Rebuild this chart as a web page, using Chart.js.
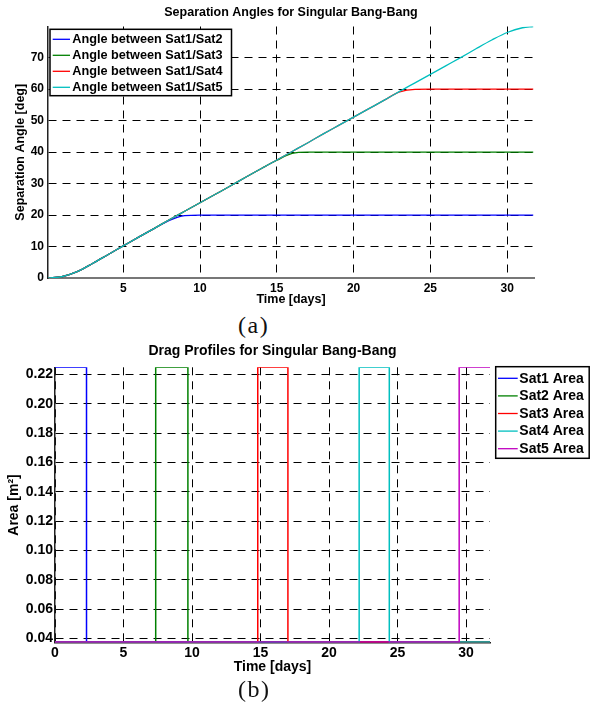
<!DOCTYPE html>
<html>
<head>
<meta charset="utf-8">
<script src="https://cdn.jsdelivr.net/npm/chart.js@4"></script>
<style>
    body { margin: 0; background: #fff; width: 591px; height: 710px; position: relative; overflow: hidden; }
    .box { position: absolute; left: 0; width: 591px; }
    .cap { position: absolute; font-family: "Liberation Serif", "Times New Roman", serif; font-size: 24px; letter-spacing: 1.5px; color: #111; }
</style>
</head>
<body>
<div class="box" style="top:0;height:310px;"><canvas id="angleChart"></canvas></div>
<div class="cap" style="left:238px;top:312px;">(a)</div>
<div class="box" style="top:340px;height:345px;"><canvas id="dragChart"></canvas></div>
<div class="cap" style="left:238px;top:676px;">(b)</div>
<script>
// separation angles (deg) vs time (days)
const days = [0.1, 1, 2, 3, 4, 5, 6, 7, 8, 9, 10, 11, 12, 13, 14, 15, 16, 17, 18, 19, 20, 21, 22, 23, 24, 25, 26, 27, 28, 29, 30, 31, 31.7];
const angleSat2 = [0, 0.4, 2.0, 4.6, 7.4, 10.2, 13.0, 15.7, 18.3, 19.8, 20, 20, 20, 20, 20, 20, 20, 20, 20, 20, 20, 20, 20, 20, 20, 20, 20, 20, 20, 20, 20, 20, 20];
const angleSat3 = [0, 0.4, 2.0, 4.6, 7.4, 10.2, 13.0, 15.7, 18.5, 21.2, 23.9, 26.6, 29.3, 32.1, 34.8, 37.4, 39.6, 40, 40, 40, 40, 40, 40, 40, 40, 40, 40, 40, 40, 40, 40, 40, 40];
const angleSat4 = [0, 0.4, 2.0, 4.6, 7.4, 10.2, 13.0, 15.7, 18.5, 21.2, 23.9, 26.6, 29.3, 32.1, 34.8, 37.5, 40.2, 42.9, 45.7, 48.4, 51.1, 53.8, 56.5, 59.1, 59.95, 60, 60, 60, 60, 60, 60, 60, 60];
const angleSat5 = [0, 0.4, 2.0, 4.6, 7.4, 10.2, 13.0, 15.7, 18.5, 21.2, 23.9, 26.6, 29.3, 32.1, 34.8, 37.5, 40.2, 42.9, 45.7, 48.4, 51.1, 53.8, 56.5, 59.3, 62.0, 64.7, 67.4, 70.1, 72.9, 75.6, 78.0, 79.5, 79.9];
const angleXTicks = [5, 10, 15, 20, 25, 30];
const angleYTicks = [0, 10, 20, 30, 40, 50, 60, 70];

// drag area (m^2) switching profiles
const dragTime1 = [0, 2.3, 2.3, 31.75];
const dragArea1 = [0.225, 0.225, 0.0375, 0.0375];
const dragTime2 = [0, 7.35, 7.35, 9.7, 9.7, 31.75];
const dragArea2 = [0.0375, 0.0375, 0.225, 0.225, 0.0375, 0.0375];
const dragTime3 = [0, 14.8, 14.8, 17.0, 17.0, 31.75];
const dragArea3 = [0.0375, 0.0375, 0.225, 0.225, 0.0375, 0.0375];
const dragTime4 = [0, 22.2, 22.2, 24.4, 24.4, 31.75];
const dragArea4 = [0.0375, 0.0375, 0.225, 0.225, 0.0375, 0.0375];
const dragTime5 = [0, 29.5, 29.5, 31.75];
const dragArea5 = [0.0375, 0.0375, 0.225, 0.225];
const dragXTicks = [0, 5, 10, 15, 20, 25, 30];
const dragYTicks = [0.04, 0.06, 0.08, 0.1, 0.12, 0.14, 0.16, 0.18, 0.2, 0.22];

const colors = ['#0000ff', '#008000', '#ff0000', '#00bfbf', '#bf00bf'];

Chart.defaults.font.family = '"Liberation Sans", Arial, sans-serif';
Chart.defaults.font.weight = 'bold';
Chart.defaults.color = '#000';

function pts(xs, ys) {
    return xs.map((x, i) => ({ x: x, y: ys[i] }));
}

// legend drawn as a framed box, like the matlab one
const boxLegend = {
    id: 'boxLegend',
    afterDraw(chart, args, opts) {
        const ctx = chart.ctx;
        ctx.save();
        ctx.fillStyle = '#fff';
        ctx.fillRect(opts.x, opts.y, opts.w, opts.h);
        ctx.strokeStyle = '#000';
        ctx.lineWidth = 1.5;
        ctx.strokeRect(opts.x, opts.y, opts.w, opts.h);
        ctx.font = 'bold ' + opts.size + 'px "Liberation Sans", Arial, sans-serif';
        ctx.textBaseline = 'middle';
        chart.data.datasets.forEach((ds, i) => {
            const y = opts.y + opts.rowTop + i * opts.rowGap;
            ctx.strokeStyle = ds.borderColor;
            ctx.lineWidth = 1.3;
            ctx.beginPath();
            ctx.moveTo(opts.x + opts.line0, y);
            ctx.lineTo(opts.x + opts.line1, y);
            ctx.stroke();
            ctx.fillStyle = '#000';
            ctx.fillText(ds.label, opts.x + opts.textX, y + 0.5);
        });
        ctx.restore();
    }
};

function setTicks(values) {
    return function(scale) {
        scale.ticks = values.map(v => ({ value: v }));
    };
}

const angleSeries = [angleSat2, angleSat3, angleSat4, angleSat5];
const angleLabels = ['Angle between Sat1/Sat2', 'Angle between Sat1/Sat3', 'Angle between Sat1/Sat4', 'Angle between Sat1/Sat5'];

new Chart(document.getElementById('angleChart'), {
    type: 'line',
    data: {
        datasets: angleSeries.map((s, i) => ({
            label: angleLabels[i],
            data: pts(days, s),
            borderColor: colors[i],
            borderWidth: 1.3,
            pointRadius: 0,
            cubicInterpolationMode: 'monotone',
            order: 3 - i
        }))
    },
    options: {
        responsive: true,
        maintainAspectRatio: false,
        animation: false,
        layout: { padding: { left: 0, right: 57, top: 0, bottom: 0 } },
        plugins: {
            legend: { display: false },
            tooltip: { enabled: false },
            title: {
                display: true,
                fullSize: false,
                text: 'Separation Angles for Singular Bang-Bang',
                font: { size: 12.5, weight: 'bold' },
                padding: { top: 5, bottom: 6.5 }
            },
            boxLegend: { x: 50, y: 29.3, w: 181.5, h: 66.4, rowTop: 10, rowGap: 16, line0: 2.7, line1: 20, textX: 22.3, size: 12.7 }
        },
        scales: {
            x: {
                type: 'linear',
                min: 0.1,
                max: 31.75,
                afterBuildTicks: setTicks(angleXTicks),
                afterFit(scale) { scale.height = 32; },
                grid: { color: '#000', lineWidth: 1, drawTicks: false },
                border: { color: '#777', width: 2, dash: [8, 6] },
                ticks: { font: { size: 12, weight: 'bold' }, padding: 3, maxRotation: 0 },
                title: { display: true, text: 'Time [days]', font: { size: 12.5, weight: 'bold' }, padding: { top: 0, bottom: 2.5 } }
            },
            y: {
                min: 0,
                max: 79.9,
                afterBuildTicks: setTicks(angleYTicks),
                afterFit(scale) { scale.width = 48; },
                grid: { color: '#000', lineWidth: 1, drawTicks: false },
                border: { color: '#222', width: 1.5, dash: [8, 6] },
                ticks: { font: { size: 12, weight: 'bold' }, padding: 4 },
                title: { display: true, text: 'Separation Angle [deg]', font: { size: 12.5, weight: 'bold' }, padding: { top: 13, bottom: 0 } }
            }
        }
    },
    plugins: [boxLegend]
});

const dragTimes = [dragTime1, dragTime2, dragTime3, dragTime4, dragTime5];
const dragAreas = [dragArea1, dragArea2, dragArea3, dragArea4, dragArea5];
const dragLabels = ['Sat1 Area', 'Sat2 Area', 'Sat3 Area', 'Sat4 Area', 'Sat5 Area'];

new Chart(document.getElementById('dragChart'), {
    type: 'line',
    data: {
        datasets: dragAreas.map((a, i) => ({
            label: dragLabels[i],
            data: pts(dragTimes[i], a),
            borderColor: colors[i],
            borderWidth: 1.5,
            pointRadius: 0,
            tension: 0,
            order: 4 - i
        }))
    },
    options: {
        responsive: true,
        maintainAspectRatio: false,
        animation: false,
        layout: { padding: { left: 0, right: 101, top: 0, bottom: 0 } },
        plugins: {
            legend: { display: false },
            tooltip: { enabled: false },
            title: {
                display: true,
                fullSize: false,
                text: 'Drag Profiles for Singular Bang-Bang',
                font: { size: 14, weight: 'bold' },
                padding: { top: 3, bottom: 7.5 }
            },
            boxLegend: { x: 495.7, y: 26.7, w: 93.5, h: 91.6, rowTop: 11.6, rowGap: 17.6, line0: 2.3, line1: 22, textX: 23.6, size: 14 }
        },
        scales: {
            x: {
                type: 'linear',
                min: 0,
                max: 31.75,
                afterBuildTicks: setTicks(dragXTicks),
                afterFit(scale) { scale.height = 42.3; },
                grid: { color: '#000', lineWidth: 1, drawTicks: false },
                border: { color: '#222', width: 1.5, dash: [8, 6] },
                ticks: { font: { size: 14, weight: 'bold' }, padding: 2, maxRotation: 0 },
                title: { display: true, text: 'Time [days]', font: { size: 14, weight: 'bold' }, padding: { top: 0, bottom: 9.9 } }
            },
            y: {
                min: 0.037,
                max: 0.225,
                afterBuildTicks: setTicks(dragYTicks),
                afterFit(scale) { scale.width = 55; },
                grid: { color: '#000', lineWidth: 1, drawTicks: false },
                border: { color: '#222', width: 1.5, dash: [8, 6] },
                ticks: { font: { size: 14, weight: 'bold' }, padding: 2 },
                title: { display: true, text: 'Area [m\u00B2]', font: { size: 14, weight: 'bold' }, padding: { top: 5.3, bottom: 0 } }
            }
        }
    },
    plugins: [boxLegend]
});
</script>
</body>
</html>
